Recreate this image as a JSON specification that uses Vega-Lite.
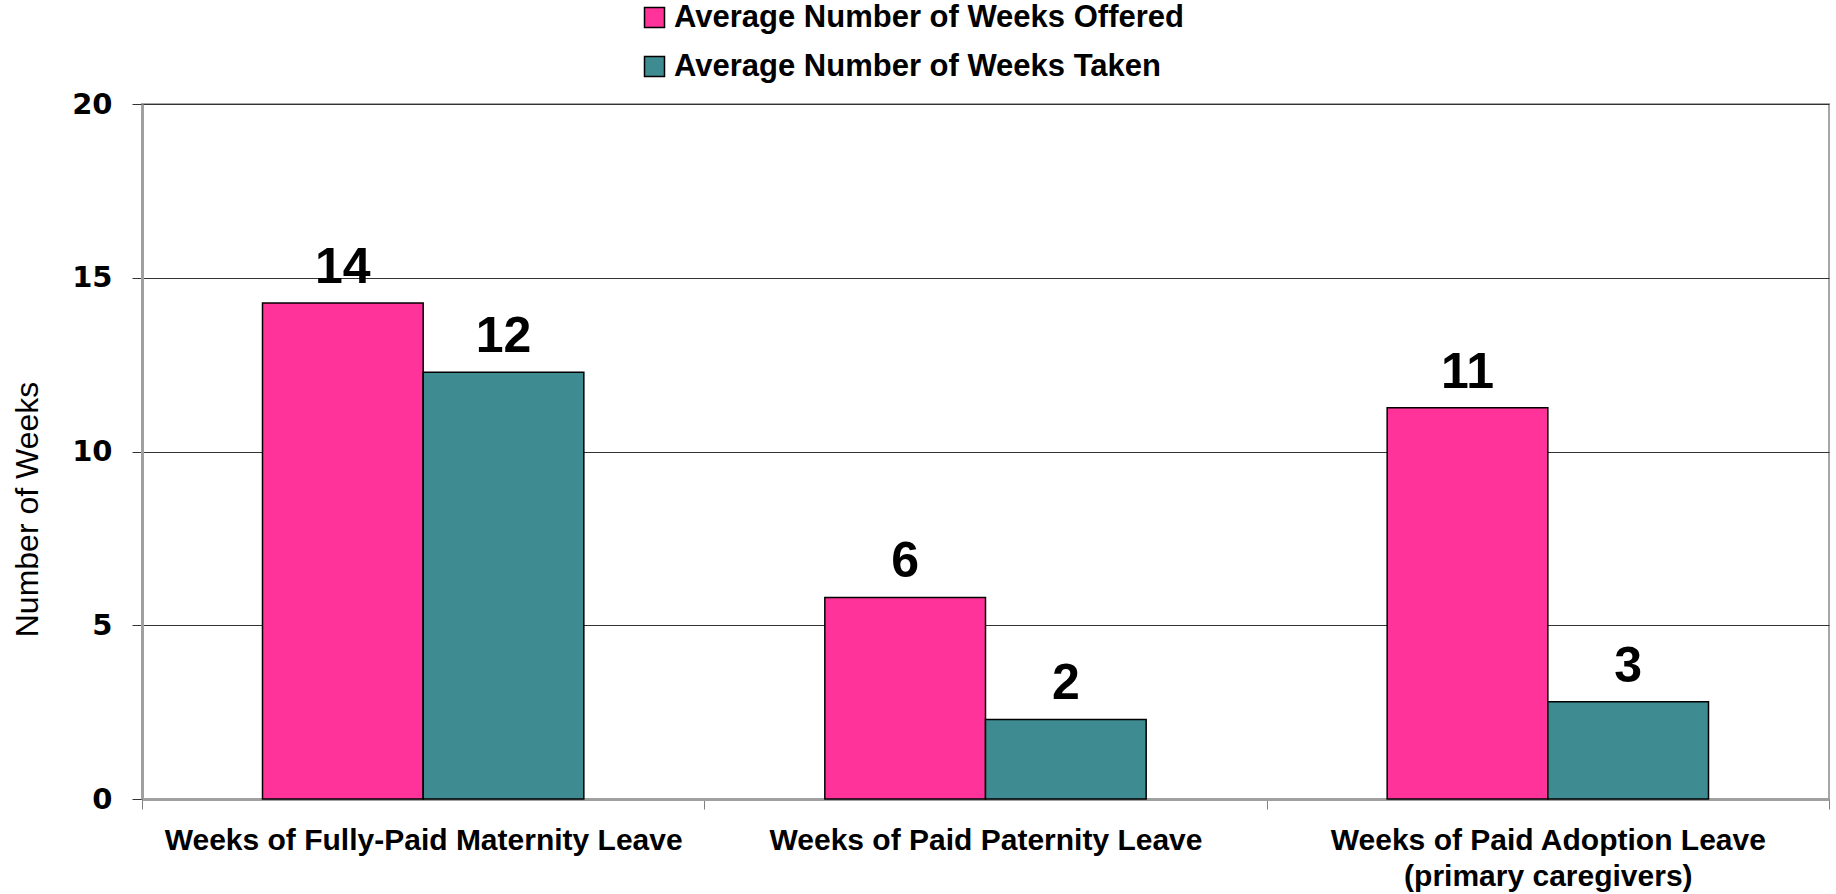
{
  "$schema": "https://vega.github.io/schema/vega-lite/v6.json",
  "width": 1687,
  "height": 695,
  "autosize": {"type": "none"},
  "padding": {"left": 142, "top": 104, "right": 7, "bottom": 95},
  "background": "white",
  "config": {
    "font": "Liberation Sans",
    "view": {"stroke": "#a6a6a6", "strokeWidth": 2}
  },
  "data": {
    "values": [
      {"category": "Weeks of Fully-Paid Maternity Leave", "series": "Average Number of Weeks Offered", "value": 14.27, "label": "14"},
      {"category": "Weeks of Fully-Paid Maternity Leave", "series": "Average Number of Weeks Taken", "value": 12.28, "label": "12"},
      {"category": "Weeks of Paid Paternity Leave", "series": "Average Number of Weeks Offered", "value": 5.8, "label": "6"},
      {"category": "Weeks of Paid Paternity Leave", "series": "Average Number of Weeks Taken", "value": 2.29, "label": "2"},
      {"category": "Weeks of Paid Adoption Leave (primary caregivers)", "series": "Average Number of Weeks Offered", "value": 11.26, "label": "11"},
      {"category": "Weeks of Paid Adoption Leave (primary caregivers)", "series": "Average Number of Weeks Taken", "value": 2.8, "label": "3"}
    ]
  },
  "encoding": {
    "x": {
      "field": "category",
      "type": "nominal",
      "sort": null,
      "scale": {"paddingInner": 0, "paddingOuter": 0},
      "axis": {
        "title": null,
        "labelAngle": 0,
        "labelFontSize": 30,
        "labelFontWeight": "bold",
        "labelColor": "black",
        "labelPadding": 16,
        "labelLineHeight": 36,
        "labelLimit": 0,
        "labelBaseline": "top",
        "tickBand": "extent",
        "tickSize": 10,
        "tickColor": "#808080",
        "domainColor": "#a0a0a0",
        "domainWidth": 3,
        "labelExpr": "datum.value == 'Weeks of Paid Adoption Leave (primary caregivers)' ? ['Weeks of Paid Adoption Leave', '(primary caregivers)'] : datum.label"
      }
    },
    "xOffset": {
      "field": "series",
      "type": "nominal",
      "sort": ["Average Number of Weeks Offered", "Average Number of Weeks Taken"],
      "scale": {"paddingOuter": 0.75, "paddingInner": 0}
    },
    "y": {
      "field": "value",
      "type": "quantitative",
      "scale": {"domain": [0, 20]},
      "axis": {
        "values": [0, 5, 10, 15, 20],
        "grid": true,
        "gridColor": "#333333",
        "gridWidth": 1,
        "tickSize": 10,
        "tickColor": "#333333",
        "labelFont": "DejaVu Sans",
        "labelFontSize": 29,
        "labelFontWeight": "bold",
        "labelColor": "black",
        "labelPadding": 20,
        "title": "Number of Weeks",
        "titleFontSize": 32,
        "titleFontWeight": "normal",
        "titleColor": "black",
        "titlePadding": 27,
        "titleY": 405,
        "domainColor": "#a0a0a0",
        "domainWidth": 3
      }
    }
  },
  "layer": [
    {
      "mark": {"type": "bar", "stroke": "black", "strokeWidth": 1.5},
      "encoding": {
        "color": {
          "field": "series",
          "type": "nominal",
          "sort": ["Average Number of Weeks Offered", "Average Number of Weeks Taken"],
          "scale": {"range": ["#FF3399", "#3E8C91"]},
          "legend": {
            "orient": "none",
            "legendX": 497,
            "legendY": -102,
            "direction": "vertical",
            "title": null,
            "symbolType": "square",
            "symbolSize": 400,
            "symbolStrokeColor": "black",
            "symbolStrokeWidth": 1.5,
            "labelFontSize": 31,
            "labelFontWeight": "bold",
            "labelColor": "black",
            "labelOffset": 4,
            "labelLimit": 0,
            "rowPadding": 17
          }
        }
      }
    },
    {
      "mark": {"type": "text", "fontSize": 50, "fontWeight": "bold", "dy": -20, "baseline": "alphabetic", "color": "black"},
      "encoding": {"text": {"field": "label"}}
    }
  ]
}
